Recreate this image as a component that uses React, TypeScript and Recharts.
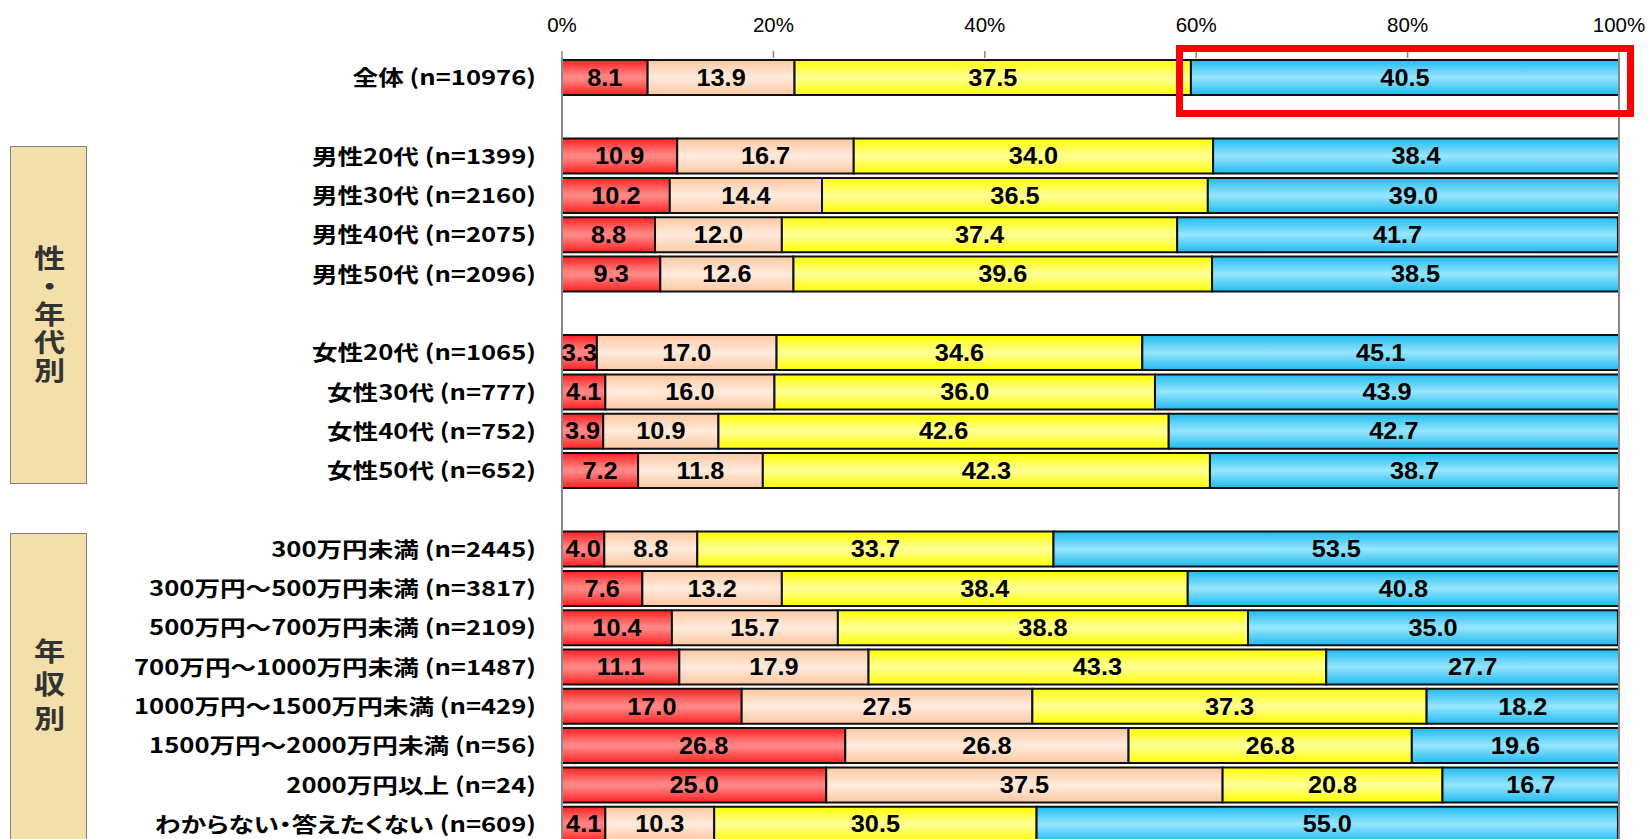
import React from 'react';
import { BarChart, Bar, XAxis, YAxis, LabelList, ReferenceLine } from 'recharts';

// rows from top to bottom, '' = spacer row
const categories = [
  '全体 (n=10976)',
  '',
  '男性20代 (n=1399)',
  '男性30代 (n=2160)',
  '男性40代 (n=2075)',
  '男性50代 (n=2096)',
  '',
  '女性20代 (n=1065)',
  '女性30代 (n=777)',
  '女性40代 (n=752)',
  '女性50代 (n=652)',
  '',
  '300万円未満 (n=2445)',
  '300万円～500万円未満 (n=3817)',
  '500万円～700万円未満 (n=2109)',
  '700万円～1000万円未満 (n=1487)',
  '1000万円～1500万円未満 (n=429)',
  '1500万円～2000万円未満 (n=56)',
  '2000万円以上 (n=24)',
  'わからない・答えたくない (n=609)',
];

const seriesRed = [8.1, null, 10.9, 10.2, 8.8, 9.3, null, 3.3, 4.1, 3.9, 7.2, null, 4.0, 7.6, 10.4, 11.1, 17.0, 26.8, 25.0, 4.1];
const seriesPeach = [13.9, null, 16.7, 14.4, 12.0, 12.6, null, 17.0, 16.0, 10.9, 11.8, null, 8.8, 13.2, 15.7, 17.9, 27.5, 26.8, 37.5, 10.3];
const seriesYellow = [37.5, null, 34.0, 36.5, 37.4, 39.6, null, 34.6, 36.0, 42.6, 42.3, null, 33.7, 38.4, 38.8, 43.3, 37.3, 26.8, 20.8, 30.5];
const seriesBlue = [40.5, null, 38.4, 39.0, 41.7, 38.5, null, 45.1, 43.9, 42.7, 38.7, null, 53.5, 40.8, 35.0, 27.7, 18.2, 19.6, 16.7, 55.0];

const xTicks = [0, 20, 40, 60, 80, 100];

const groupBoxes = [
  { text: '性・年代別', top: 146, height: 338, spacing: 2 },
  { text: '年収別', top: 533, height: 310, spacing: 7.5 },
];

const rows = categories.map((name, i) => ({
  key: `r${i}`,
  name,
  red: seriesRed[i],
  peach: seriesPeach[i],
  yellow: seriesYellow[i],
  blue: seriesBlue[i],
}));

const CJK = '"Noto Sans CJK JP", "Noto Sans", sans-serif';
const LATIN = '"Liberation Sans", Arial, sans-serif';

function CategoryTick(props: any) {
  const { x, y, payload } = props;
  const row = rows.find(r => r.key === payload.value);
  if (!row || !row.name) return null;
  return (
    <g transform={`translate(${x},${y})`}>
      <text
        transform="scale(1.22,1)"
        textAnchor="end"
        dy="0.36em"
        fontSize={21}
        fontWeight={700}
        fontFamily={CJK}
        fill="#000"
        style={{ fontFeatureSettings: '"palt" 1' }}
      >
        {row.name}
      </text>
    </g>
  );
}

function ValueLabel(props: any) {
  const { x, y, width, height, value } = props;
  if (value == null) return null;
  const cx = Number(x) + Number(width) / 2;
  const cy = Number(y) + Number(height) / 2;
  return (
    <g transform={`translate(${cx},${cy}) scale(1.1,1)`}>
      <text textAnchor="middle" dy="0.36em" fontSize={23} fontWeight={700} fontFamily={LATIN} fill="#000">
        {Number(value).toFixed(1)}
      </text>
    </g>
  );
}

function GroupBox({ text, top, height, spacing }: { text: string; top: number; height: number; spacing: number }) {
  return (
    <div
      style={{
        position: 'absolute',
        left: 10,
        top,
        width: 77,
        height,
        boxSizing: 'border-box',
        background: '#F2DFAA',
        border: '1.5px solid #7f7f7f',
        display: 'flex',
        alignItems: 'center',
        justifyContent: 'center',
      }}
    >
      <div
        style={{
          writingMode: 'vertical-rl',
          textOrientation: 'upright',
          fontFamily: CJK,
          fontWeight: 700,
          fontSize: 26,
          letterSpacing: spacing,
          lineHeight: 1,
          color: '#333',
          transform: 'scaleX(1.2)',
        }}
      >
        {text}
      </div>
    </div>
  );
}

export default function App() {
  return (
    <div style={{ position: 'absolute', left: 0, top: 0, width: 1648, height: 839, overflow: 'hidden', background: '#fff' }}>
      <BarChart
        width={1648}
        height={850}
        data={rows}
        layout="vertical"
        margin={{ top: 0, right: 29, bottom: 6, left: 0 }}
        barSize={35}
      >
        <defs>
          <linearGradient id="gRed" x1="0" y1="0" x2="0" y2="1">
            <stop offset="0" stopColor="#FF2020" />
            <stop offset="0.45" stopColor="#FF8585" />
            <stop offset="0.55" stopColor="#FF8585" />
            <stop offset="1" stopColor="#FF2020" />
          </linearGradient>
          <linearGradient id="gPeach" x1="0" y1="0" x2="0" y2="1">
            <stop offset="0" stopColor="#FCC8A2" />
            <stop offset="0.5" stopColor="#FFEBDD" />
            <stop offset="1" stopColor="#FCC8A2" />
          </linearGradient>
          <linearGradient id="gYellow" x1="0" y1="0" x2="0" y2="1">
            <stop offset="0" stopColor="#FFFF00" />
            <stop offset="0.5" stopColor="#FFFF99" />
            <stop offset="1" stopColor="#FFFF00" />
          </linearGradient>
          <linearGradient id="gBlue" x1="0" y1="0" x2="0" y2="1">
            <stop offset="0" stopColor="#1FBBEE" />
            <stop offset="0.5" stopColor="#97E6FF" />
            <stop offset="1" stopColor="#1FBBEE" />
          </linearGradient>
        </defs>
        <XAxis
          type="number"
          orientation="top"
          domain={[0, 100]}
          ticks={xTicks}
          interval={0}
          allowDataOverflow
          tickFormatter={(v: number) => `${v}%`}
          height={58}
          axisLine={false}
          tickLine={{ stroke: '#868686', strokeWidth: 1.5 }}
          tickSize={7}
          tickMargin={19}
          tick={{ fontSize: 20.5, fill: '#000', fontFamily: LATIN }}
        />
        <YAxis
          type="category"
          dataKey="key"
          width={562}
          interval={0}
          axisLine={{ stroke: '#868686', strokeWidth: 2 }}
          tickLine={false}
          tickMargin={20}
          tick={<CategoryTick />}
        />
        <Bar dataKey="red" stackId="a" fill="url(#gRed)" stroke="#111" strokeWidth={2} isAnimationActive={false}>
          <LabelList dataKey="red" content={<ValueLabel />} />
        </Bar>
        <Bar dataKey="peach" stackId="a" fill="url(#gPeach)" stroke="#111" strokeWidth={2} isAnimationActive={false}>
          <LabelList dataKey="peach" content={<ValueLabel />} />
        </Bar>
        <Bar dataKey="yellow" stackId="a" fill="url(#gYellow)" stroke="#111" strokeWidth={2} isAnimationActive={false}>
          <LabelList dataKey="yellow" content={<ValueLabel />} />
        </Bar>
        <Bar dataKey="blue" stackId="a" fill="url(#gBlue)" stroke="#111" strokeWidth={2} isAnimationActive={false}>
          <LabelList dataKey="blue" content={<ValueLabel />} />
        </Bar>
        <ReferenceLine x={100} stroke="#868686" strokeWidth={2} />
      </BarChart>

      {groupBoxes.map((b, i) => (
        <GroupBox key={i} {...b} />
      ))}

      <div
        style={{
          position: 'absolute',
          left: 1176,
          top: 45,
          width: 458,
          height: 72,
          boxSizing: 'border-box',
          border: '7px solid #FF0000',
        }}
      />
    </div>
  );
}
